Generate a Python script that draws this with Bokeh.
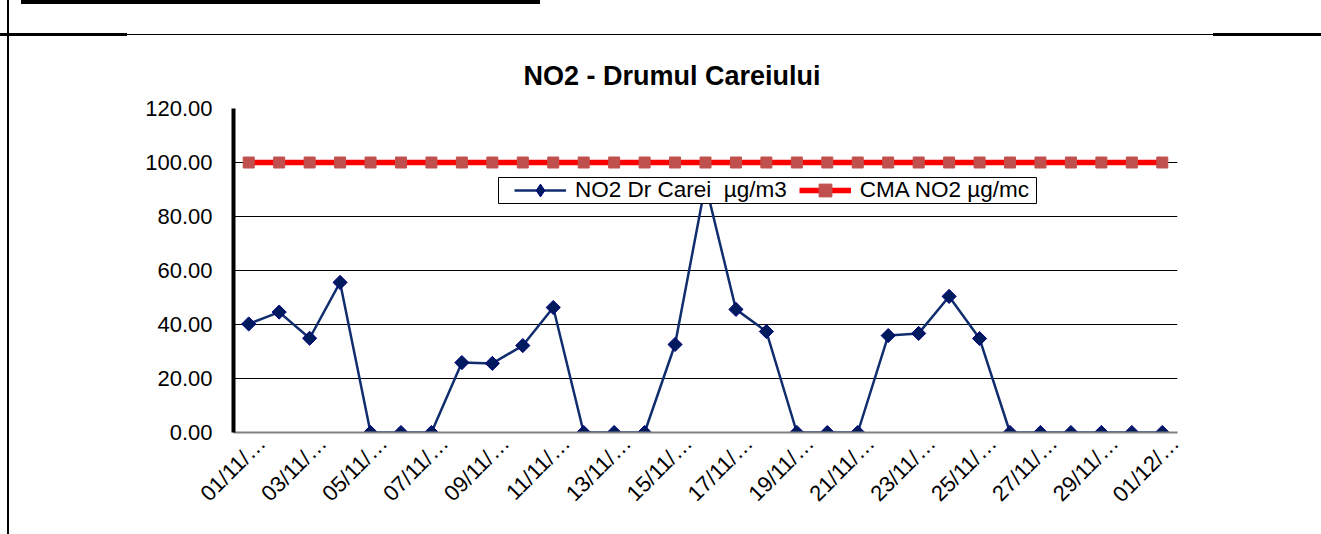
import math
from bokeh.plotting import figure
from bokeh.models import (Range1d, FixedTicker, NumeralTickFormatter,
                          Legend, LegendItem, BoxAnnotation, ColumnDataSource)
from bokeh.embed import file_html
from bokeh.resources import INLINE

# ---------------- data ----------------
dates = ["01/11", "02/11", "03/11", "04/11", "05/11", "06/11", "07/11", "08/11",
         "09/11", "10/11", "11/11", "12/11", "13/11", "14/11", "15/11", "16/11",
         "17/11", "18/11", "19/11", "20/11", "21/11", "22/11", "23/11", "24/11",
         "25/11", "26/11", "27/11", "28/11", "29/11", "30/11", "01/12"]
no2 = [40.2, 44.6, 34.9, 55.6, 0.0, 0.0, 0.0, 25.9, 25.6, 32.2, 46.3, 0.0, 0.0, 0.0,
       32.6, 92.0, 45.6, 37.4, 0.0, 0.0, 0.0, 35.9, 36.7, 50.4, 34.8, 0.0, 0.0, 0.0,
       0.0, 0.0, 0.0]
cma = [100.0, 100.0, 100.0, 100.0, 100.0, 100.0, 100.0, 100.0, 100.0, 100.0, 100.0,
       100.0, 100.0, 100.0, 100.0, 100.0, 100.0, 100.0, 100.0, 100.0, 100.0, 100.0,
       100.0, 100.0, 100.0, 100.0, 100.0, 100.0, 100.0, 100.0, 100.0]
y_ticks = [0, 20, 40, 60, 80, 100, 120]
title_text = "NO2 - Drumul Careiului"
series_names = ["NO2 Dr Carei  µg/m3", "CMA NO2 µg/mc"]

# category positions; only every other date is labelled, truncated as in the original
idx = list(range(len(dates)))
LABEL_SHIFT = 0.43          # rotated labels hang slightly right of their category
x_ticks = [i + LABEL_SHIFT for i in idx[::2]]
tick_labels = {i + LABEL_SHIFT: dates[i] + "/…" for i in idx[::2]}

FONT = "Liberation Sans"
W, H = 1321, 534

# page rules drawn as CSS background of the plot element
rules = [  # (x, y, w, h)
    (7, 0, 2, H),
    (21, 0, 519, 4),
    (0, 33, 127, 3),
    (127, 34, 1086, 1),
    (1213, 33, 108, 3),
]
css = {
    "background-image": ", ".join(["linear-gradient(#000, #000)"] * len(rules)),
    "background-size": ", ".join(f"{w}px {h}px" for _, _, w, h in rules),
    "background-position": ", ".join(f"{x}px {y}px" for x, y, _, _ in rules),
    "background-repeat": "no-repeat",
    "background-color": "white",
}

p = figure(width=W, height=H,
           x_range=Range1d(-0.5, len(dates) - 0.5),
           y_range=Range1d(0, 120),
           output_backend="svg", toolbar_location=None,
           min_border_left=233, min_border_right=W - 1177,
           min_border_top=108, min_border_bottom=H - 432,
           styles=css)
p.outline_line_color = None
p.background_fill_color = "white"
p.border_fill_color = None

# title
p.title.text = title_text
p.title.text_font = FONT
p.title.text_font_size = "27px"
p.title.text_font_style = "bold"
p.title.text_color = "black"
p.title.align = "left"
p.title.offset = 290
p.title.standoff = 35

# axes
p.xaxis.ticker = FixedTicker(ticks=x_ticks)
p.xaxis.major_label_overrides = tick_labels
p.xaxis.major_label_orientation = math.pi / 4
p.xaxis.major_tick_line_color = None
p.xaxis.minor_tick_line_color = None
p.xaxis.axis_line_color = "#808080"
p.xaxis.axis_line_width = 2
p.xaxis.major_label_text_font = FONT
p.xaxis.major_label_text_font_size = "22px"
p.xaxis.major_label_text_color = "black"
p.xaxis.major_label_standoff = 1

p.yaxis.ticker = FixedTicker(ticks=y_ticks)
p.yaxis.formatter = NumeralTickFormatter(format="0.00")
p.yaxis.axis_line_color = "black"
p.yaxis.axis_line_width = 4
p.yaxis.major_tick_line_color = None
p.yaxis.minor_tick_line_color = None
p.yaxis.major_label_text_font = FONT
p.yaxis.major_label_text_font_size = "22px"
p.yaxis.major_label_text_color = "black"
p.yaxis.major_label_standoff = 15

p.xgrid.grid_line_color = None
p.ygrid.ticker = FixedTicker(ticks=y_ticks)
p.ygrid.grid_line_color = "black"
p.ygrid.grid_line_width = 1

NAVY_LINE = "#102D6E"
NAVY_FILL = "#001A5E"
NAVY_EDGE = "#000080"
RED = "#FF0000"
RED_MARK = "#C0504D"

src = ColumnDataSource(dict(x=idx, date=dates, no2=no2, cma=cma))
l1 = p.line("x", "no2", source=src, line_color=NAVY_LINE, line_width=2.5)
s1 = p.scatter("x", "no2", source=src, marker="square", angle=math.pi / 4, size=10,
               fill_color=NAVY_FILL, line_color=NAVY_EDGE, line_width=1)
l2 = p.line("x", "cma", source=src, line_color=RED, line_width=5.5)
s2 = p.scatter("x", "cma", source=src, marker="square", size=11,
               fill_color=RED_MARK, line_color=RED_MARK, line_width=1)
# legend-only swatch for the diamond marker (a single undefined point, never drawn in the plot)
s1_key = p.scatter(x=[float("nan")], y=[float("nan")], marker="diamond", size=15,
                   fill_color=NAVY_FILL, line_color=NAVY_EDGE, line_width=1)

# legend frame
p.add_layout(BoxAnnotation(left=265, right=803, top=255, bottom=229,
                           left_units="screen", right_units="screen",
                           top_units="screen", bottom_units="screen",
                           fill_color="white", fill_alpha=1,
                           line_color="black", line_width=1, line_alpha=1))

legend = Legend(items=[LegendItem(label=series_names[0], renderers=[l1, s1_key]),
                       LegendItem(label=series_names[1], renderers=[l2, s2])],
                location=(281, 226), orientation="horizontal",
                padding=0, margin=0, spacing=12, label_standoff=9,
                glyph_width=52, glyph_height=32,
                border_line_color=None, background_fill_alpha=0,
                label_text_font=FONT, label_text_font_size="22.5px",
                label_text_color="black")
p.add_layout(legend, "center")

open("out.html", "w").write(file_html(p, INLINE))
